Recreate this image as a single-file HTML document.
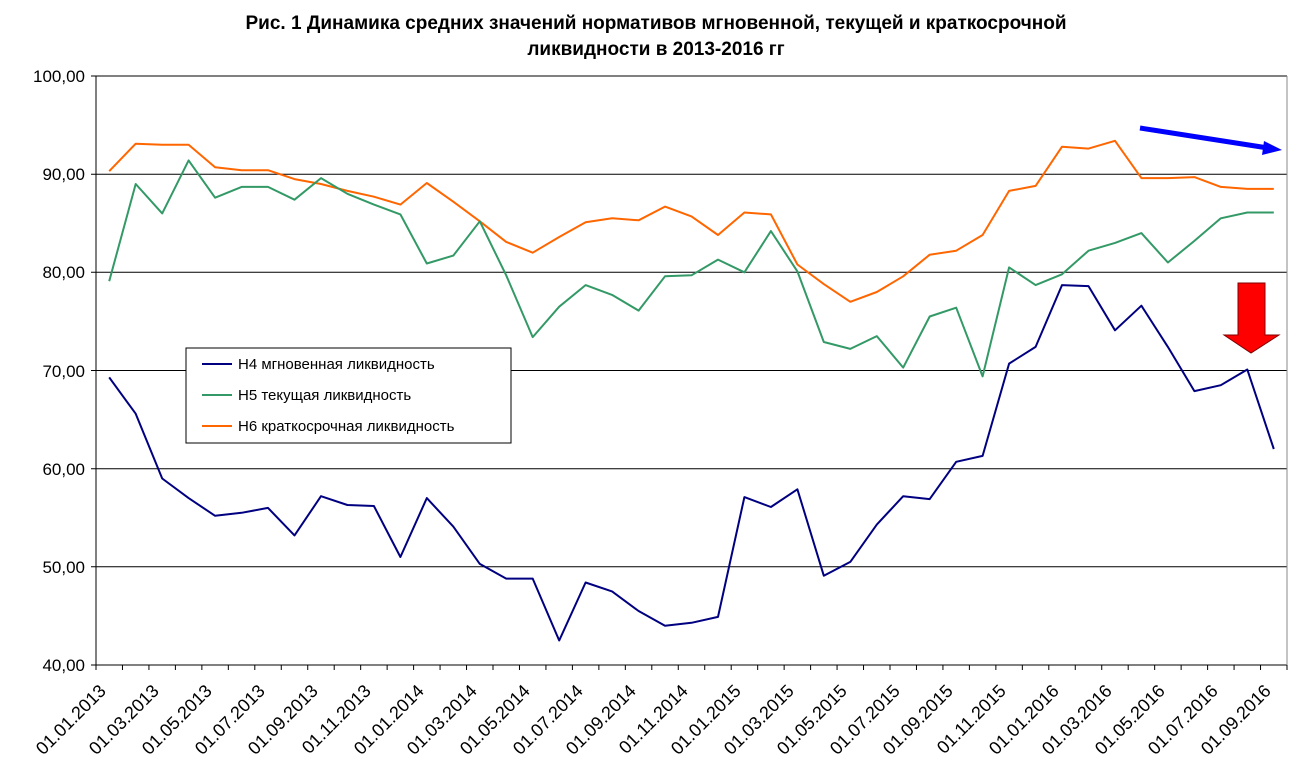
<!DOCTYPE html>
<html><head><meta charset="utf-8"><style>
body{margin:0;background:#fff;}
svg{display:block;font-family:"Liberation Sans",Arial,sans-serif;}
</style></head><body>
<svg id="c" width="1302" height="777" viewBox="0 0 1302 777" xmlns="http://www.w3.org/2000/svg">
<rect width="1302" height="777" fill="#fff"/>
<text x="656" y="29" text-anchor="middle" font-size="19" font-weight="bold">Рис. 1 Динамика средних значений нормативов мгновенной, текущей и краткосрочной</text>
<text x="656" y="55" text-anchor="middle" font-size="19" font-weight="bold">ликвидности в 2013-2016 гг</text>
<g stroke="#000" stroke-width="1">
<line x1="91" y1="76" x2="1287" y2="76"/>
<line x1="91" y1="174.2" x2="1287" y2="174.2"/>
<line x1="91" y1="272.3" x2="1287" y2="272.3"/>
<line x1="91" y1="370.5" x2="1287" y2="370.5"/>
<line x1="91" y1="468.7" x2="1287" y2="468.7"/>
<line x1="91" y1="566.8" x2="1287" y2="566.8"/>
<line x1="91" y1="665" x2="1287" y2="665"/>
<line x1="96" y1="76" x2="96" y2="665"/>
</g>
<line x1="1287" y1="76" x2="1287" y2="665" stroke="#888" stroke-width="1"/>
<g font-size="17" text-anchor="end">
<text x="85" y="82">100,00</text>
<text x="85" y="180">90,00</text>
<text x="85" y="278">80,00</text>
<text x="85" y="377">70,00</text>
<text x="85" y="475">60,00</text>
<text x="85" y="573">50,00</text>
<text x="85" y="671">40,00</text>
</g>
<g id="ticks" stroke="#000"></g>
<g id="series" fill="none" stroke-width="2"></g>
<g font-size="18" text-anchor="end" id="xl">
<text transform="translate(107,692) rotate(-45)">01.01.2013</text>
<text transform="translate(160,692) rotate(-45)">01.03.2013</text>
<text transform="translate(213,692) rotate(-45)">01.05.2013</text>
<text transform="translate(266,692) rotate(-45)">01.07.2013</text>
<text transform="translate(319,692) rotate(-45)">01.09.2013</text>
<text transform="translate(372,692) rotate(-45)">01.11.2013</text>
<text transform="translate(425,692) rotate(-45)">01.01.2014</text>
<text transform="translate(478,692) rotate(-45)">01.03.2014</text>
<text transform="translate(531,692) rotate(-45)">01.05.2014</text>
<text transform="translate(584,692) rotate(-45)">01.07.2014</text>
<text transform="translate(637,692) rotate(-45)">01.09.2014</text>
<text transform="translate(689,692) rotate(-45)">01.11.2014</text>
<text transform="translate(742,692) rotate(-45)">01.01.2015</text>
<text transform="translate(795,692) rotate(-45)">01.03.2015</text>
<text transform="translate(848,692) rotate(-45)">01.05.2015</text>
<text transform="translate(901,692) rotate(-45)">01.07.2015</text>
<text transform="translate(954,692) rotate(-45)">01.09.2015</text>
<text transform="translate(1007,692) rotate(-45)">01.11.2015</text>
<text transform="translate(1060,692) rotate(-45)">01.01.2016</text>
<text transform="translate(1113,692) rotate(-45)">01.03.2016</text>
<text transform="translate(1166,692) rotate(-45)">01.05.2016</text>
<text transform="translate(1219,692) rotate(-45)">01.07.2016</text>
<text transform="translate(1272,692) rotate(-45)">01.09.2016</text>
</g>
<rect x="186" y="348" width="325" height="95" fill="#fff" stroke="#000" stroke-width="1"/>
<line x1="202" y1="364" x2="232" y2="364" stroke="#000080" stroke-width="2"/>
<line x1="202" y1="395" x2="232" y2="395" stroke="#339966" stroke-width="2"/>
<line x1="202" y1="426" x2="232" y2="426" stroke="#FF6600" stroke-width="2"/>
<g font-size="15">
<text x="238" y="369">Н4 мгновенная ликвидность</text>
<text x="238" y="400">Н5 текущая ликвидность</text>
<text x="238" y="431">Н6 краткосрочная ликвидность</text>
</g>
<line x1="1140" y1="128" x2="1268" y2="148" stroke="#0000ff" stroke-width="5"/>
<polygon points="1282,150 1264,141 1262,155" fill="#0000ff"/>
<polygon points="1238,283 1265,283 1265,335 1279,335 1251,353 1224,335 1238,335" fill="#ff0000" stroke="#800000" stroke-width="1"/>
</svg>
<script>
var h4=[69.3,65.6,59.0,57.0,55.2,55.5,56.0,53.2,57.2,56.3,56.2,51.0,57.0,54.1,50.3,48.8,48.8,42.5,48.4,47.5,45.5,44.0,44.3,44.9,57.1,56.1,57.9,49.1,50.5,54.3,57.2,56.9,60.7,61.3,70.7,72.4,78.7,78.6,74.1,76.6,72.4,67.9,68.5,70.1,62.0];
var h5=[79.1,89.0,86.0,91.4,87.6,88.7,88.7,87.4,89.6,88.0,86.9,85.9,80.9,81.7,85.2,79.7,73.4,76.5,78.7,77.7,76.1,79.6,79.7,81.3,80.0,84.2,80.1,72.9,72.2,73.5,70.3,75.5,76.4,69.4,80.5,78.7,79.8,82.2,83.0,84.0,81.0,83.2,85.5,86.1,86.1];
var h6=[90.3,93.1,93.0,93.0,90.7,90.4,90.4,89.5,89.0,88.3,87.7,86.9,89.1,87.2,85.2,83.1,82.0,83.6,85.1,85.5,85.3,86.7,85.7,83.8,86.1,85.9,80.8,78.8,77.0,78.0,79.6,81.8,82.2,83.8,88.3,88.8,92.8,92.6,93.4,89.6,89.6,89.7,88.7,88.5,88.5];
var ns="http://www.w3.org/2000/svg",w=1191/45;
function X(i){return 96+w*(i+0.5);}function Y(v){return 76+(100-v)*9.8167;}
var t=document.getElementById('ticks');
for(var k=0;k<=45;k++){var l=document.createElementNS(ns,'line');var x=96+w*k;l.setAttribute('x1',x);l.setAttribute('x2',x);l.setAttribute('y1',665);l.setAttribute('y2',670);t.appendChild(l);}
var g=document.getElementById('series');
[[h6,'#FF6600'],[h5,'#339966'],[h4,'#000080']].forEach(function(s){var p=document.createElementNS(ns,'polyline');p.setAttribute('points',s[0].map(function(v,i){return X(i).toFixed(1)+','+Y(v).toFixed(1);}).join(' '));p.setAttribute('stroke',s[1]);p.setAttribute('stroke-linejoin','round');g.appendChild(p);});
</script>
</body></html>
